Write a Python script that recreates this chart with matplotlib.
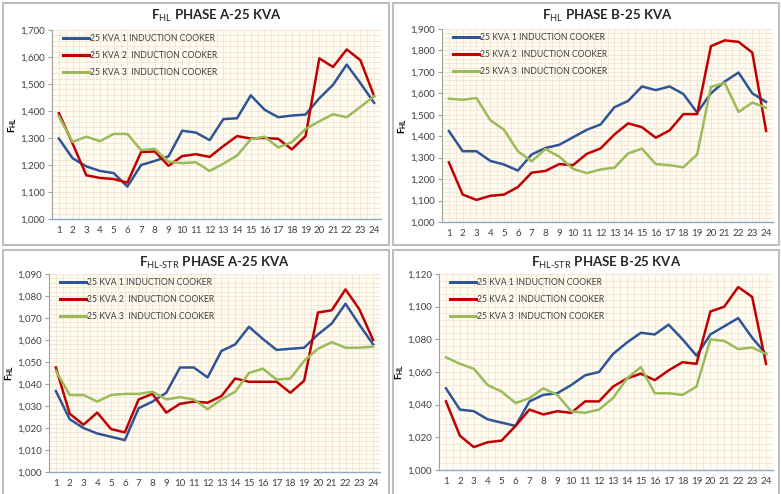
import matplotlib
matplotlib.use("Agg")
import matplotlib.pyplot as plt
from matplotlib.patches import Rectangle
from matplotlib.ticker import FuncFormatter, MultipleLocator

plt.rcParams['font.family'] = ['Lato', 'DejaVu Sans']
plt.rcParams['mathtext.fontset'] = 'custom'
plt.rcParams['mathtext.rm'] = 'Lato'
plt.rcParams['mathtext.bf'] = 'Lato:bold'

hours = list(range(1, 25))
series_names = ["25 KVA 1 INDUCTION COOKER", "25 KVA 2  INDUCTION COOKER", "25 KVA 3  INDUCTION COOKER"]
colors = ["#2F5597", "#C00000", "#9BBB59"]

# FHL phase A
fhl_a_1 = [1.298, 1.225, 1.195, 1.178, 1.170, 1.120, 1.200, 1.215, 1.232, 1.327, 1.320, 1.292,
           1.370, 1.373, 1.458, 1.405, 1.377, 1.383, 1.387, 1.447, 1.497, 1.572, 1.503, 1.430]
fhl_a_2 = [1.392, 1.280, 1.162, 1.152, 1.148, 1.135, 1.248, 1.250, 1.197, 1.233, 1.240, 1.230,
           1.270, 1.307, 1.298, 1.300, 1.297, 1.258, 1.307, 1.595, 1.563, 1.628, 1.588, 1.455]
fhl_a_3 = [1.380, 1.285, 1.305, 1.288, 1.315, 1.315, 1.255, 1.260, 1.212, 1.207, 1.210, 1.178,
           1.205, 1.235, 1.295, 1.305, 1.265, 1.285, 1.333, 1.362, 1.388, 1.377, 1.415, 1.455]

# FHL phase B
fhl_b_1 = [1.424, 1.330, 1.330, 1.285, 1.268, 1.240, 1.315, 1.345, 1.360, 1.395, 1.430, 1.455,
           1.535, 1.565, 1.632, 1.615, 1.632, 1.597, 1.510, 1.600, 1.655, 1.697, 1.600, 1.560]
fhl_b_2 = [1.278, 1.128, 1.103, 1.122, 1.128, 1.163, 1.230, 1.238, 1.270, 1.265, 1.318, 1.343,
           1.408, 1.460, 1.442, 1.393, 1.427, 1.503, 1.503, 1.820, 1.847, 1.840, 1.790, 1.425]
fhl_b_3 = [1.575, 1.570, 1.578, 1.475, 1.430, 1.330, 1.283, 1.340, 1.305, 1.248, 1.228, 1.245,
           1.253, 1.320, 1.342, 1.270, 1.265, 1.255, 1.315, 1.630, 1.648, 1.513, 1.557, 1.533]

# FHL-STR phase A
str_a_1 = [1.0368, 1.024, 1.020, 1.0175, 1.016, 1.0145, 1.029, 1.032, 1.036, 1.0475, 1.0475, 1.043,
           1.055, 1.058, 1.066, 1.0605, 1.0555, 1.056, 1.0565, 1.0625, 1.0675, 1.0765, 1.067, 1.058]
str_a_2 = [1.0475, 1.0265, 1.0215, 1.027, 1.0195, 1.018, 1.033, 1.0355, 1.027, 1.031, 1.032, 1.0315,
           1.0345, 1.0425, 1.041, 1.041, 1.041, 1.036, 1.0415, 1.0725, 1.0735, 1.083, 1.074, 1.060]
str_a_3 = [1.046, 1.035, 1.035, 1.032, 1.035, 1.0355, 1.0355, 1.0365, 1.033, 1.034, 1.033, 1.0285,
           1.033, 1.0365, 1.045, 1.047, 1.042, 1.0425, 1.0505, 1.056, 1.059, 1.0565, 1.0565, 1.057]

# FHL-STR phase B
str_b_1 = [1.050, 1.037, 1.036, 1.031, 1.029, 1.027, 1.042, 1.046, 1.047, 1.052, 1.058, 1.060,
           1.071, 1.078, 1.084, 1.083, 1.089, 1.080, 1.070, 1.083, 1.088, 1.093, 1.081, 1.071]
str_b_2 = [1.042, 1.021, 1.014, 1.017, 1.018, 1.027, 1.037, 1.034, 1.036, 1.035, 1.042, 1.042,
           1.051, 1.056, 1.059, 1.055, 1.061, 1.066, 1.065, 1.097, 1.100, 1.112, 1.106, 1.065]
str_b_3 = [1.069, 1.065, 1.062, 1.052, 1.048, 1.041, 1.044, 1.050, 1.046, 1.036, 1.035, 1.037,
           1.044, 1.056, 1.063, 1.047, 1.047, 1.046, 1.051, 1.080, 1.079, 1.074, 1.075, 1.071]

W, H = 781, 494
fig = plt.figure(figsize=(W / 100, H / 100), dpi=100)


def box(l, t, r, b):
    return [l / W, 1 - b / H, (r - l) / W, (b - t) / H]


panels = [
    # frame, plot area, title subscript, title, ymax, ystep, data
    ((3, 3, 389, 245), (52, 30, 381, 219), "HL", "PHASE A-25 KVA", 1.7, 0.1, (fhl_a_1, fhl_a_2, fhl_a_3)),
    ((393, 3, 779, 245), (442, 29, 773, 222), "HL", "PHASE B-25 KVA", 1.9, 0.1, (fhl_b_1, fhl_b_2, fhl_b_3)),
    ((3, 250, 389, 500), (49, 274, 380, 472), "HL-STR", "PHASE A-25 KVA", 1.09, 0.01, (str_a_1, str_a_2, str_a_3)),
    ((393, 250, 779, 500), (439, 274, 773, 470), "HL-STR", "PHASE B-25 KVA", 1.12, 0.02, (str_b_1, str_b_2, str_b_3)),
]

comma = FuncFormatter(lambda v, p: f"{v:.3f}".replace(".", ","))

for frame, area, sub, title, ymax, ystep, data in panels:
    l, t, r, b = frame
    fig.patches.append(Rectangle((l / W, 1 - b / H), (r - l) / W, (b - t) / H,
                                 transform=fig.transFigure, fill=False,
                                 edgecolor="#BFBFBF", linewidth=1.5))
    ax = fig.add_axes(box(*area))
    ax.set_facecolor("#FFFCF2")
    for vals, c, name in zip(data, colors, series_names):
        ax.plot(hours, vals, color=c, linewidth=1.8, label=name, zorder=3)
    ax.set_xlim(0.5, 24.5)
    ax.set_ylim(1.0, ymax)
    ax.set_xticks(hours)
    ax.tick_params(axis="x", length=0, labelsize=7, colors="#404040", pad=5)
    ax.yaxis.set_major_locator(MultipleLocator(ystep))
    ax.yaxis.set_major_formatter(comma)
    ax.tick_params(axis="y", length=3, labelsize=7, colors="#404040", pad=2)
    ax.tick_params(axis="y", which="major", color="#A0A0A0")
    ax.xaxis.set_minor_locator(MultipleLocator(0.5))
    ax.yaxis.set_minor_locator(MultipleLocator(ystep / 5))
    ax.tick_params(which="minor", length=0)
    ax.grid(True, which="both", color="#F3E3D3", linewidth=0.6, zorder=0)
    for s in ("top", "right"):
        ax.spines[s].set_visible(False)
    ax.spines["left"].set_color("#A0A0A0")
    ax.spines["bottom"].set_color("#8EA9C8")
    ax.spines["bottom"].set_linewidth(1.0)
    ax.set_ylabel(r"$\mathbf{F_{HL}}$", fontsize=7, labelpad=1)
    cx = (area[0] + area[2]) / 2 / W
    fig.text(cx, 1 - (t + 13) / H, r"$\mathbf{F_{\text{" + sub + "}}}$ " + title,
             ha="center", va="center", fontsize=9.5, fontweight="bold", color="#262626")
    leg = ax.legend(loc="upper left", bbox_to_anchor=(0.01, 1.02), frameon=False,
                    fontsize=6.2, handlelength=3.0, handletextpad=0.1, labelspacing=0.95)
    for line in leg.get_lines():
        line.set_linewidth(2.2)
    for txt in leg.get_texts():
        txt.set_color("#404040")

fig.savefig("out.png", dpi=100)
